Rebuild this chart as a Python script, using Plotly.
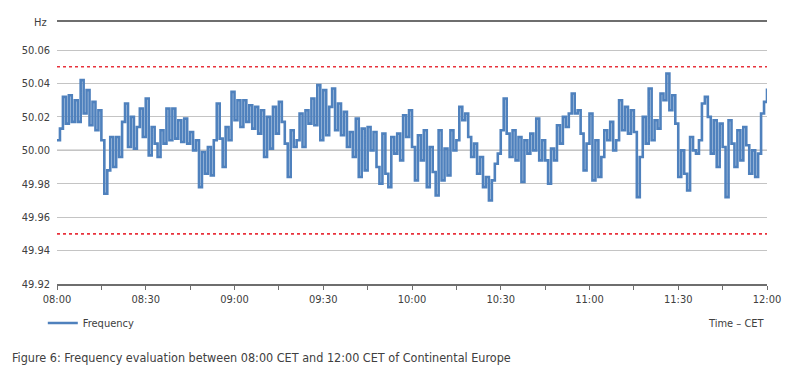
import plotly.graph_objects as go
import pandas as pd

# Frequency (Hz), one value per minute from 08:00 to 12:00 CET
freq = [
    50.006, 50.013, 50.032, 50.016, 50.033, 50.017, 50.030, 50.017, 50.042, 50.022,
    50.036, 50.015, 50.029, 50.012, 50.024, 50.006, 49.974, 49.988, 50.008, 49.990,
    50.008, 49.996, 50.017, 50.028, 50.002, 50.020, 50.001,
    50.014, 50.025, 50.008, 50.031, 49.997, 50.014, 50.004, 49.996, 50.012, 50.004,
    50.025, 50.006, 50.025, 50.007, 50.018, 50.005, 50.019, 50.004, 50.011, 50.000,
    50.006, 49.978, 49.999, 49.986, 50.002, 49.985, 50.006,
    50.028, 50.007, 49.990, 50.014, 50.006, 50.035, 50.018, 50.030, 50.014, 50.030,
    50.017, 50.027, 50.013, 50.026, 50.010, 50.024, 49.996, 50.020, 50.001, 50.026,
    50.010, 50.029, 50.017, 50.004, 49.984, 50.012, 50.002,
    50.006, 50.022, 50.002, 50.024, 50.016, 50.031, 50.015, 50.039, 50.006, 50.036,
    50.009, 50.026, 50.037, 50.012, 50.028, 50.009, 50.023, 50.002, 50.011, 49.996,
    50.019, 49.984, 50.013, 49.988, 50.014, 50.000, 50.011,
    49.990, 49.980, 50.010, 49.986, 49.978, 50.008, 49.998, 50.010, 49.994, 50.021,
    50.008, 50.024, 50.002, 49.982, 50.009, 49.994, 50.012, 49.978, 50.002, 49.987,
    49.973, 50.012, 49.982, 50.001, 49.985, 50.012, 50.000,
    50.006, 50.026, 50.018, 50.022, 50.008, 49.996, 50.004, 49.986, 49.996, 49.978,
    49.984, 49.970, 49.982, 49.992, 49.998, 50.012, 50.031, 50.010, 49.996, 50.012,
    49.994, 50.008, 49.981, 50.006, 49.998, 50.010, 50.000,
    50.019, 49.994, 50.006, 49.994, 49.980, 50.001, 49.994, 50.015, 50.004, 50.020,
    50.014, 50.022, 50.034, 50.022, 50.024, 50.010, 49.988, 50.004, 50.022, 49.982,
    50.006, 49.984, 49.996, 50.012, 50.006, 50.017, 50.000,
    50.006, 50.030, 50.012, 50.026, 50.010, 50.024, 50.011, 49.972, 49.996, 50.020,
    50.004, 50.037, 50.006, 50.018, 50.013, 50.034, 50.030, 50.046, 50.024, 50.033,
    50.016, 49.984, 50.000, 49.986, 49.976, 50.008, 50.000,
    49.998, 50.006, 50.028, 50.032, 50.020, 49.998, 50.018, 49.990, 50.016, 50.002,
    49.972, 50.018, 50.004, 49.990, 50.012, 49.994, 50.014, 50.003, 49.986, 50.000,
    49.984, 49.998, 50.022, 50.029, 50.037,
]
start_time = "2019-01-10 08:00"
end_time = "2019-01-10 12:00"
times = pd.date_range(start_time, periods=len(freq), freq="1min")

y_ticks = [49.92, 49.94, 49.96, 49.98, 50.00, 50.02, 50.04, 50.06]
y_tick_text = ["49.92", "49.94", "49.96", "49.98", "50.00", "50.02", "50.04", "50.06"]
x_ticks = pd.date_range(start_time, end_time, freq="30min")
x_tick_text = ["08:00", "08:30", "09:00", "09:30", "10:00", "10:30", "11:00", "11:30", "12:00"]
upper_limit = 50.05
lower_limit = 49.95
y_top = 50.0768

FONT = "Liberation Sans Narrow, DejaVu Sans Condensed, Arial Narrow, sans-serif"

fig = go.Figure()
fig.add_trace(go.Scatter(
    x=times, y=freq, mode="lines", name="Frequency",
    line=dict(color="#4f81bd", width=2.6, shape="hv"),
))

for lvl in (upper_limit, lower_limit):
    fig.add_shape(type="line", xref="paper", x0=0, x1=1, yref="y", y0=lvl, y1=lvl,
                  line=dict(color="#e8323c", width=1.6, dash="dot"), layer="above")

fig.add_shape(type="line", xref="paper", x0=0, x1=1, yref="y", y0=50.0, y1=50.0,
              line=dict(color="#7a7a7a", width=1.3), layer="below")

fig.add_annotation(text="Hz", xref="paper", yref="y", x=0, y=y_top, xanchor="right",
                   xshift=-8, showarrow=False, font=dict(size=11, color="#404040", family=FONT))
fig.add_annotation(text="Time – CET", xref="paper", yref="paper", x=1, y=-0.149,
                   xanchor="right", yanchor="middle", showarrow=False,
                   font=dict(size=11, color="#404040", family=FONT))
fig.add_annotation(text="Figure 6: Frequency evaluation between 08:00 CET and 12:00 CET of Continental Europe",
                   xref="paper", yref="paper", x=0, xshift=-47, y=-0.279, xanchor="left", yanchor="middle",
                   showarrow=False, font=dict(size=12.5, color="#404040", family=FONT))

fig.update_layout(
    width=798, height=385,
    margin=dict(l=49, r=39, t=14, b=109),
    paper_bgcolor="white", plot_bgcolor="white",
    font=dict(family=FONT, size=11, color="#404040"),
    showlegend=True,
    legend=dict(orientation="h", x=-0.02, y=-0.149, xanchor="left", yanchor="middle",
                itemwidth=30, font=dict(size=11, color="#404040", family=FONT),
                bgcolor="rgba(0,0,0,0)"),
    xaxis=dict(
        range=[start_time, end_time], tickvals=x_ticks, ticktext=x_tick_text,
        showgrid=False, showline=True, linecolor="#6e6e6e", linewidth=1.5, mirror=True,
        ticks="outside", ticklen=4, tickcolor="#6e6e6e",
        minor=dict(dtick=15 * 60 * 1000, ticks="outside", ticklen=4, tickcolor="#6e6e6e", showgrid=False),
        zeroline=False, tickfont=dict(size=11),
    ),
    yaxis=dict(
        range=[49.92, y_top], tickvals=y_ticks, ticktext=y_tick_text,
        showgrid=True, gridcolor="#c4c4c4", gridwidth=1,
        showline=False, zeroline=False, ticks="", ticklabelstandoff=6,
        tickfont=dict(size=11),
    ),
)

fig.write_html("out.html")
